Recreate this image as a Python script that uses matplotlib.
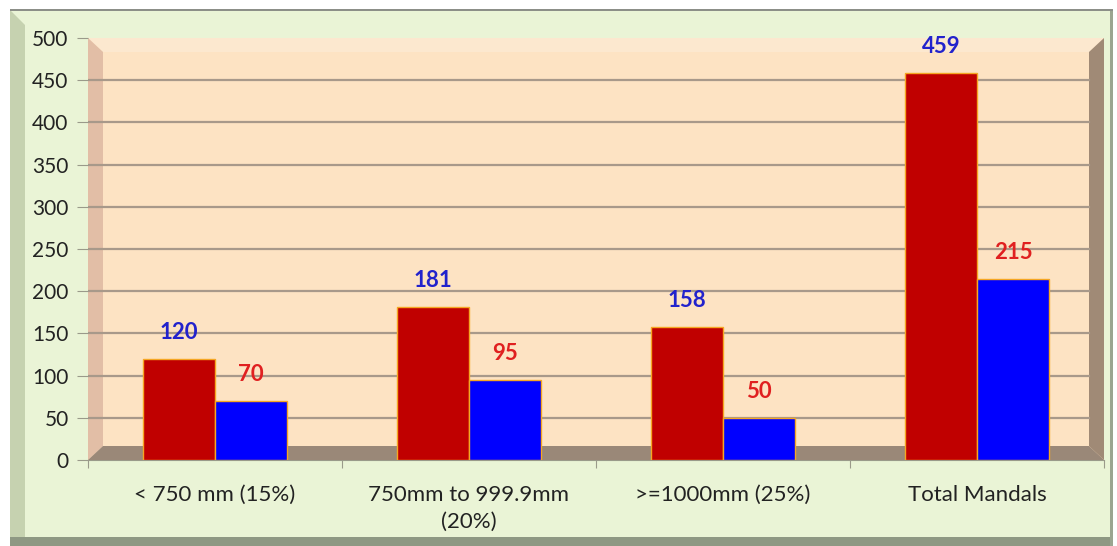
import numpy as np
import matplotlib.pyplot as plt
from matplotlib.patches import Polygon, Rectangle

categories = ["< 750 mm (15%)", "750mm to 999.9mm\n(20%)", ">=1000mm (25%)", "Total Mandals"]
series_a = [120, 181, 158, 459]
series_b = [70, 95, 50, 215]
yticks = [0, 50, 100, 150, 200, 250, 300, 350, 400, 450, 500]

W, H = 1117, 546
plt.rcParams['font.family'] = ['Lato', 'DejaVu Sans']

fig = plt.figure(figsize=(W / 100, H / 100), dpi=100)
fig.patch.set_facecolor("white")


def px(x, y):
    return (x / W, 1 - y / H)


def fig_poly(pts, color):
    fig.patches.append(Polygon([px(*p) for p in pts], closed=True, transform=fig.transFigure,
                               facecolor=color, edgecolor="none", zorder=-10))


# outer frame of the chart
fig_poly([(10, 10), (1113, 10), (1113, 546), (10, 546)], "#EAF4D6")
fig_poly([(10, 10), (25, 25), (25, 537), (10, 546)], "#C6D2B0")
fig_poly([(10, 537), (1113, 537), (1113, 546), (10, 546)], "#8E9883")
fig_poly([(1110, 10), (1113, 10), (1113, 546), (1110, 546)], "#9BA590")
fig_poly([(10, 9), (1113, 9), (1113, 11), (10, 11)], "#8C8F88")

L, R, T, B = 88, 1104, 38, 460
ax = fig.add_axes([L / W, 1 - B / H, (R - L) / W, (B - T) / H])
ax.set_zorder(1)
ax.set_facecolor("none")
ax.set_xlim(0, 4)
ax.set_ylim(0, 500)

# 3d-ish box: back wall, left wall, floor, right wall
dx, dy = 15 / (R - L), 14 / (B - T)
tr = ax.transAxes
ax.add_patch(Rectangle((0, 0), 1, 1, transform=tr, facecolor="#FDE3C3", edgecolor="none", zorder=0))
ax.add_patch(Polygon([(0, 1), (1, 1), (1 - dx, 1 - dy), (dx, 1 - dy)], transform=tr,
                     facecolor="#FCE8CF", edgecolor="none", zorder=0))
ax.add_patch(Polygon([(0, 0), (dx, dy), (dx, 1 - dy), (0, 1)], transform=tr,
                     facecolor="#E2BEA6", edgecolor="none", zorder=0.5))
ax.add_patch(Polygon([(0, 0), (1, 0), (1 - dx, dy), (dx, dy)], transform=tr,
                     facecolor="#9A8878", edgecolor="none", zorder=0.5))
ax.add_patch(Polygon([(1, 0), (1, 1), (1 - dx, 1 - dy), (1 - dx, dy)], transform=tr,
                     facecolor="#A08A76", edgecolor="none", zorder=0.5))

for v in yticks[1:-1]:
    ax.plot([0, 1 - dx], [v, v], color="#A8998A", lw=1.6, zorder=1, transform=ax.get_yaxis_transform())

x = np.arange(len(categories)) + 0.5
bw = 0.284
ba = ax.bar(x - bw / 2, series_a, bw, color="#C00000", edgecolor="#F5A623", lw=1, zorder=3)
bb = ax.bar(x + bw / 2, series_b, bw, color="#0000FF", edgecolor="#F5A623", lw=1, zorder=3)

for r, v in zip(ba, series_a):
    ax.annotate(str(v), (r.get_x() + r.get_width() / 2, v), xytext=(0, 19), textcoords="offset points",
                ha="center", va="center", color="#2222CC", fontsize=16, fontweight="bold")
for r, v in zip(bb, series_b):
    ax.annotate(str(v), (r.get_x() + r.get_width() / 2, v), xytext=(0, 19), textcoords="offset points",
                ha="center", va="center", color="#E02020", fontsize=16, fontweight="bold")

for s in ["top", "right", "left"]:
    ax.spines[s].set_visible(False)
ax.spines["bottom"].set_color("#9A9A8A")

ax.set_yticks(yticks)
ax.set_yticklabels([str(t) for t in yticks], fontsize=15, color="#222222")
ax.tick_params(axis="y", length=8, color="#9A9A8A", pad=6)
ax.set_xticks([0, 1, 2, 3, 4])
ax.set_xticklabels([])
ax.set_xticks(x, minor=True)
ax.set_xticklabels(categories, minor=True, fontsize=16, color="#222222", va="top", linespacing=1.45)
ax.tick_params(axis="x", which="minor", length=0, pad=18)
ax.tick_params(axis="x", which="major", length=6, color="#9A9A8A", direction="out")

fig.savefig("out.png", dpi=100)
